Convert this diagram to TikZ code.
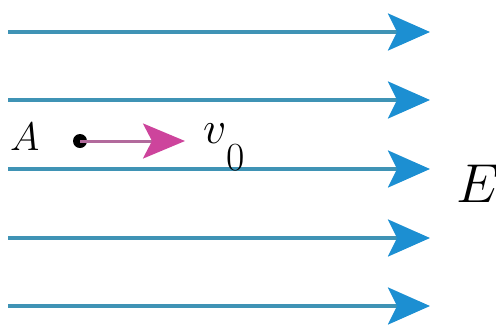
\RequirePackage{fix-cm}
\documentclass[tikz,border=0pt]{standalone}
\usepackage{amsmath}
\usetikzlibrary{positioning, arrows.meta}
\definecolor{FieldLine}{HTML}{3F93B5}
\definecolor{FieldTip}{HTML}{1C8FD2}
\definecolor{VelLine}{HTML}{B26A9C}
\definecolor{VelTip}{HTML}{CD449C}
\tikzset{
    fieldline/.style={line width=3.2bp, color=FieldLine, -{Stealth[length=42bp, width=37bp, inset=9bp, color=FieldTip]}},
    velarrow/.style={line width=3bp, color=VelLine, -{Stealth[length=42bp, width=35bp, inset=9bp, color=VelTip]}},
    charge/.style={circle, fill=black, inner sep=0pt, minimum size=14bp},
    biglabel/.style={inner sep=0pt, text=black},
}

\begin{document}
\begin{tikzpicture}[x=1bp, y=-1bp]
    \useasboundingbox (0,0) rectangle (496,324);

    % Linee di campo
    \foreach \i/\y in {1/32, 2/100, 3/169, 4/238, 5/306} {
        \coordinate (s\i) at (8,\y);
        \coordinate (e\i) at (430,\y);
        \draw[fieldline] (s\i) -- (e\i);
    }

    % Carica in A e velocita iniziale
    \node[charge] (dotA) at (80,141) {};
    \coordinate (vtip) at (185,141);
    \draw[velarrow] (dotA.center) -- (vtip);

    % Etichette
    \node[biglabel, anchor=base west, font=\fontsize{40}{42}\selectfont] (labA) at (10,150) {$A$};
    \node[biglabel, anchor=base west, font=\fontsize{46}{48}\selectfont] (labv) at (203,143)
        {$v$\kern0bp\lower27bp\hbox{\fontsize{40}{42}\selectfont 0}};
    \node[biglabel, anchor=base west, font=\fontsize{55}{57}\selectfont] (labE) at (456,202) {$E$};
\end{tikzpicture}
\end{document}
